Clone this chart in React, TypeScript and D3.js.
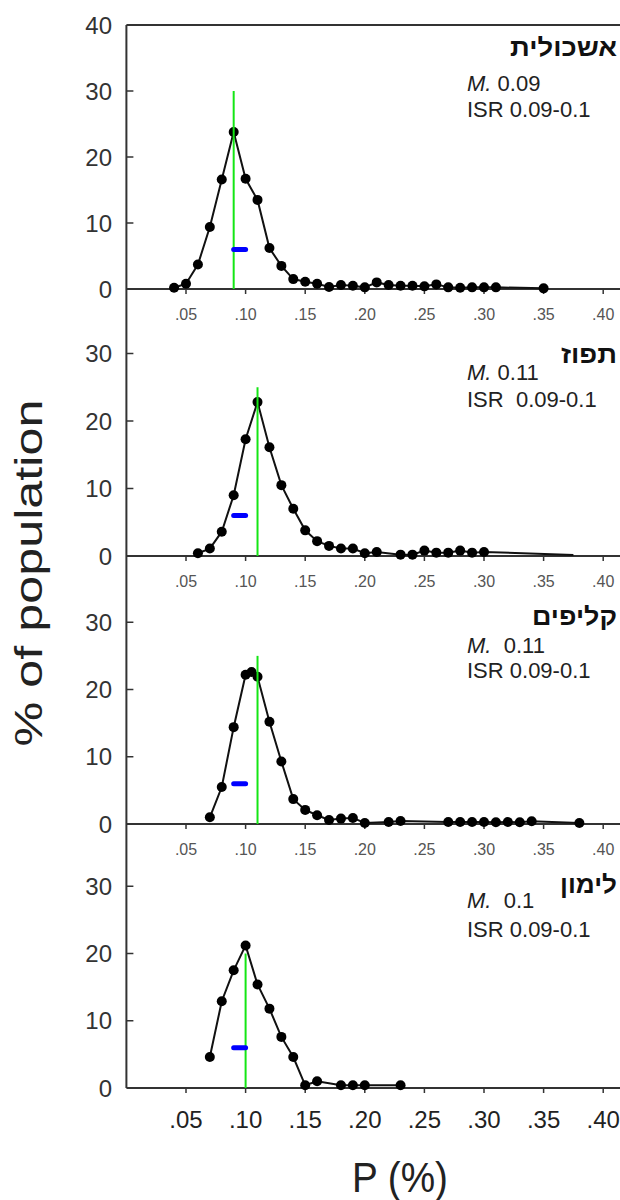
import React from "react";
import * as d3 from "d3";

// ---------- data ----------
const panelNames = ["אשכולית", "תפוז", "קליפים", "לימון"];
const meanLabels = ["M. 0.09", "M. 0.11", "M.  0.11", "M.  0.1"];
const isrLabels = ["ISR 0.09-0.1", "ISR  0.09-0.1", "ISR 0.09-0.1", "ISR 0.09-0.1"];

const grapefruitX = [0.04, 0.05, 0.06, 0.07, 0.08, 0.09, 0.1, 0.11, 0.12, 0.13, 0.14, 0.15, 0.16, 0.17, 0.18, 0.19, 0.2, 0.21, 0.22, 0.23, 0.24, 0.25, 0.26, 0.27, 0.28, 0.29, 0.3, 0.31, 0.35];
const grapefruitY = [0.2, 0.8, 3.7, 9.4, 16.6, 23.8, 16.7, 13.5, 6.2, 3.5, 1.5, 1.1, 0.8, 0.3, 0.6, 0.5, 0.25, 1.0, 0.6, 0.5, 0.5, 0.4, 0.7, 0.25, 0.2, 0.25, 0.25, 0.25, 0.1];

const orangeX = [0.06, 0.07, 0.08, 0.09, 0.1, 0.11, 0.12, 0.13, 0.14, 0.15, 0.16, 0.17, 0.18, 0.19, 0.2, 0.21, 0.23, 0.24, 0.25, 0.26, 0.27, 0.28, 0.29, 0.3];
const orangeY = [0.4, 1.1, 3.6, 9.0, 17.3, 22.8, 16.1, 10.5, 7.0, 3.8, 2.2, 1.5, 1.1, 1.1, 0.4, 0.6, 0.2, 0.2, 0.8, 0.5, 0.5, 0.8, 0.5, 0.6];
const orangeTail = [0.375, 0.15]; // unmarked end of the line

const peelsX = [0.07, 0.08, 0.09, 0.1, 0.105, 0.11, 0.12, 0.13, 0.14, 0.15, 0.16, 0.17, 0.18, 0.19, 0.2, 0.22, 0.23, 0.27, 0.28, 0.29, 0.3, 0.31, 0.32, 0.33, 0.34, 0.38];
const peelsY = [1.0, 5.5, 14.4, 22.2, 22.6, 21.9, 15.2, 9.3, 3.7, 2.1, 1.3, 0.6, 0.8, 0.9, 0.15, 0.3, 0.45, 0.3, 0.3, 0.3, 0.3, 0.25, 0.3, 0.25, 0.4, 0.15];

const lemonX = [0.07, 0.08, 0.09, 0.1, 0.11, 0.12, 0.13, 0.14, 0.15, 0.16, 0.18, 0.19, 0.2, 0.23];
const lemonY = [4.6, 12.9, 17.5, 21.2, 15.4, 11.8, 7.6, 4.6, 0.4, 1.0, 0.4, 0.4, 0.4, 0.4];

const meanValues = [0.09, 0.11, 0.11, 0.1];
const meanLineTop = [30, 25, 25, 20];
const isrRange = [0.09, 0.1];
const isrLevel = 6;

const xTickValues = [0.05, 0.1, 0.15, 0.2, 0.25, 0.3, 0.35, 0.4];
const xTickLabels = [".05", ".10", ".15", ".20", ".25", ".30", ".35", ".40"];
const yTicksFirst = [0, 10, 20, 30, 40];
const yTicksOther = [0, 10, 20, 30];

// ---------- layout ----------
const W = 620;
const H = 1200;
const axisX = 126.4;
const rightEdge = 620;
const panelZero = [289, 556, 824, 1088];
const panelHeight = [264, 270, 269, 269];
const nameBase = [-233, -193, -199, -195];
const meanBase = [-198, -176, -171, -180];
const isrBase = [-172, -149, -146, -151];
const nameWidth = [107, 56, 85, 57];

const series = [
  { x: grapefruitX, y: grapefruitY, tail: null as number[] | null },
  { x: orangeX, y: orangeY, tail: orangeTail },
  { x: peelsX, y: peelsY, tail: null },
  { x: lemonX, y: lemonY, tail: null },
];

const FONT = "'Liberation Sans', Arial, sans-serif";
const AXIS = "#333";

export default function App() {
  const x = d3.scaleLinear().domain([0, 0.4]).range([axisX, 603.2]);

  return (
    <svg
      width={W}
      height={H}
      style={{ position: "absolute", left: 0, top: 0, background: "#fff" }}
      fontFamily={FONT}
    >
      <rect x={0} y={0} width={W} height={H} fill="#fff" />
      {series.map((s, i) => {
        const zero = panelZero[i];
        const y = d3.scaleLinear().domain([0, 40]).range([zero, zero - panelHeight[i]]);
        const pts: [number, number][] = s.x.map((v, k) => [v, s.y[k]]);
        const linePts = s.tail ? [...pts, [s.tail[0], s.tail[1]] as [number, number]] : pts;
        const line = d3
          .line<[number, number]>()
          .x((d) => x(d[0]))
          .y((d) => y(d[1]));
        const yTicks = i === 0 ? yTicksFirst : yTicksOther;
        const last = i === 3;
        return (
          <g key={i}>
            {/* x axis */}
            <line x1={axisX} x2={rightEdge} y1={zero} y2={zero} stroke={AXIS} strokeWidth={2} />
            {xTickValues.map((t, k) => (
              <g key={k}>
                <line x1={x(t)} x2={x(t)} y1={zero} y2={zero + 5} stroke={AXIS} strokeWidth={1.5} />
                <text
                  x={x(t)}
                  y={zero + (last ? 40 : 31)}
                  textAnchor="middle"
                  fontSize={last ? 24 : 16}
                  fill={last ? "#222" : "#555"}
                >
                  {xTickLabels[k]}
                </text>
              </g>
            ))}
            {/* y ticks */}
            {yTicks.map((t) => (
              <g key={t}>
                {t > 0 && t < 40 && (
                  <line x1={axisX} x2={axisX + 7} y1={y(t)} y2={y(t)} stroke={AXIS} strokeWidth={1.5} />
                )}
                <text x={112} y={y(t) + 8.5} textAnchor="end" fontSize={24} fill="#333">
                  {t}
                </text>
              </g>
            ))}
            {/* data */}
            <path d={line(linePts) || ""} fill="none" stroke="#111" strokeWidth={2} />
            {pts.map((d, k) => (
              <circle key={k} cx={x(d[0])} cy={y(d[1])} r={5} fill="#000" />
            ))}
            {/* mean line */}
            <line
              x1={x(meanValues[i])}
              x2={x(meanValues[i])}
              y1={y(0)}
              y2={y(meanLineTop[i])}
              stroke="#14e614"
              strokeWidth={2}
            />
            {/* ISR bar */}
            <line
              x1={x(isrRange[0])}
              x2={x(isrRange[1])}
              y1={y(isrLevel)}
              y2={y(isrLevel)}
              stroke="#0000ff"
              strokeWidth={5}
              strokeLinecap="round"
            />
            {/* labels */}
            <text
              x={617}
              y={zero + nameBase[i]}
              textAnchor="end"
              fontSize={25}
              fontWeight="bold"
              fill="#111"
              textLength={nameWidth[i]}
              lengthAdjust="spacingAndGlyphs"
            >
              {panelNames[i]}
            </text>
            <text x={467} y={zero + meanBase[i]} fontSize={22} fill="#222" style={{ whiteSpace: "pre" }}>
              <tspan fontStyle="italic">{meanLabels[i].slice(0, 2)}</tspan>
              {meanLabels[i].slice(2)}
            </text>
            <text x={467} y={zero + isrBase[i]} fontSize={22} fill="#222" style={{ whiteSpace: "pre" }}>
              {isrLabels[i]}
            </text>
          </g>
        );
      })}
      {/* y axis and top border */}
      <line x1={axisX} x2={axisX} y1={25} y2={panelZero[3]} stroke={AXIS} strokeWidth={2} />
      <line x1={axisX} x2={rightEdge} y1={25} y2={25} stroke={AXIS} strokeWidth={2} />
      {/* axis titles */}
      <text
        transform="translate(42,573) rotate(-90)"
        textAnchor="middle"
        fontSize={38}
        fill="#222"
        textLength={347}
        lengthAdjust="spacingAndGlyphs"
      >
        % of population
      </text>
      <text
        x={400}
        y={1192}
        textAnchor="middle"
        fontSize={42}
        fill="#222"
        textLength={96}
        lengthAdjust="spacingAndGlyphs"
      >
        P (%)
      </text>
    </svg>
  );
}
